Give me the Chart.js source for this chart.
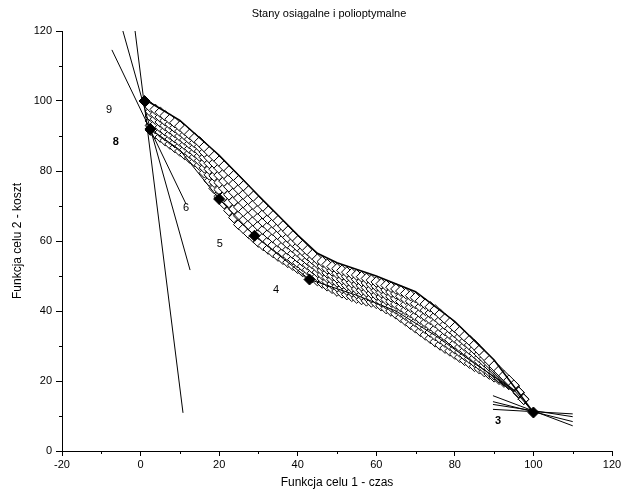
<!DOCTYPE html>
<html lang="pl">
<head>
<meta charset="UTF-8">
<title>Stany osiągalne i polioptymalne</title>
<script src="https://cdn.jsdelivr.net/npm/chart.js@4.4.0/dist/chart.umd.min.js"></script>
<style>
  html, body { margin: 0; padding: 0; background: #fff; }
  canvas { display: block; }
</style>
</head>
<body>
<canvas id="chart" width="625" height="495"></canvas>
<script>
// reachable states: six rows of hollow diamonds along the band
const xBand = [2.5, 3.75, 5, 6.25, 7.5, 8.75, 10, 11.25, 12.5, 13.75, 15, 16.25, 17.5, 18.75, 20, 21.25, 22.5, 23.75,
               25, 26.25, 27.5, 28.75, 30, 31.25, 32.5, 33.75, 35, 36.25, 37.5, 38.75, 40, 41.25, 42.5, 43.75, 45,
               46.25, 47.5, 48.75, 50, 51.25, 52.5, 53.75, 55, 56.25, 57.5, 58.75, 60, 61.25, 62.5, 63.75, 65,
               66.25, 67.5, 68.75, 70, 71.25, 72.5, 73.75, 75, 76.25, 77.5, 78.75, 80, 81.25, 82.5, 83.75, 85,
               86.25, 87.5, 88.75, 90, 91.25, 92.5, 93.75, 95, 96.25, 97.5];
const yRow0 = [98.3, 97.6, 96.8, 95.8, 94.8, 93.8, 92.8, 91.7, 90.5, 89.4, 88.3, 86.9, 85.5, 84.2, 82.8, 81.4, 80.0, 78.7,
               77.3, 75.8, 74.3, 72.8, 71.3, 69.9, 68.5, 67.2, 65.8, 64.3, 62.8, 61.4, 60.0, 58.7, 57.3, 56.1, 54.8,
               54.1, 53.3, 52.7, 52.1, 51.6, 51.1, 50.7, 50.3, 49.8, 49.3, 48.8, 48.3, 47.8, 47.3, 46.8, 46.3,
               45.7, 45.0, 44.4, 43.8, 42.9, 42.0, 41.2, 40.3, 39.1, 37.8, 36.6, 35.3, 34.1, 32.8, 31.6, 30.3,
               28.8, 27.3, 25.8, 24.3, 22.9, 21.5, 20.2, 18.8, 16.8, 14.8];
const yRow1 = [97.0, 96.2, 95.4, 94.4, 93.4, 92.4, 91.4, 90.3, 89.1, 88.1, 87.0, 85.4, 83.8, 82.3, 80.8, 79.3, 77.7, 76.3,
               74.8, 73.3, 71.9, 70.4, 69.0, 67.7, 66.3, 65.1, 63.8, 62.4, 61.0, 59.7, 58.4, 57.2, 55.9, 54.8, 53.6,
               52.8, 52.1, 51.5, 50.8, 50.3, 49.8, 49.4, 49.0, 48.5, 48.0, 47.6, 47.1, 46.5, 46.0, 45.4, 44.9,
               44.2, 43.4, 42.8, 42.1, 41.2, 40.2, 39.4, 38.5, 37.3, 36.1, 35.0, 33.8, 32.6, 31.4, 30.3, 29.1,
               27.7, 26.4, 25.0, 23.7, 22.4, 21.1, 19.9, 18.7, 16.8, 14.8];
const yRow2 = [95.7, 94.8, 94.0, 93.0, 92.0, 91.0, 90.0, 88.9, 87.8, 86.7, 85.7, 83.9, 82.2, 80.5, 78.8, 77.1, 75.5, 73.9,
               72.3, 70.9, 69.5, 68.1, 66.7, 65.4, 64.2, 63.0, 61.8, 60.5, 59.2, 58.1, 56.9, 55.7, 54.5, 53.5, 52.4,
               51.6, 50.9, 50.2, 49.5, 49.0, 48.5, 48.1, 47.7, 47.2, 46.7, 46.3, 45.9, 45.3, 44.7, 44.1, 43.5,
               42.7, 41.9, 41.1, 40.4, 39.4, 38.5, 37.6, 36.7, 35.6, 34.4, 33.4, 32.3, 31.2, 30.0, 29.0, 27.9,
               26.7, 25.5, 24.3, 23.1, 21.9, 20.8, 19.7, 18.6, 16.7, 14.8];
const yRow3 = [94.3, 93.4, 92.5, 91.5, 90.5, 89.5, 88.5, 87.5, 86.4, 85.4, 84.3, 82.4, 80.5, 78.6, 76.7, 75.0, 73.2, 71.5,
               69.7, 68.4, 67.0, 65.7, 64.3, 63.2, 62.0, 60.9, 59.7, 58.6, 57.5, 56.4, 55.3, 54.2, 53.2, 52.2, 51.1,
               50.4, 49.6, 49.0, 48.3, 47.8, 47.3, 46.8, 46.3, 45.9, 45.5, 45.1, 44.6, 44.0, 43.3, 42.7, 42.0,
               41.2, 40.3, 39.5, 38.6, 37.7, 36.7, 35.8, 34.8, 33.8, 32.8, 31.8, 30.7, 29.7, 28.7, 27.7, 26.6,
               25.6, 24.5, 23.5, 22.4, 21.4, 20.4, 19.4, 18.4, 16.6, 14.8];
const yRow4 = [93.0, 92.1, 91.1, 90.1, 89.1, 88.1, 87.1, 86.1, 85.1, 84.0, 83.0, 80.9, 78.9, 76.8, 74.7, 72.8, 71.0, 69.1,
               67.2, 65.9, 64.6, 63.3, 62.0, 61.0, 59.9, 58.8, 57.7, 56.7, 55.7, 54.7, 53.8, 52.8, 51.8, 50.9, 49.9,
               49.2, 48.4, 47.7, 47.0, 46.5, 46.0, 45.5, 45.0, 44.6, 44.2, 43.8, 43.4, 42.7, 42.0, 41.3, 40.6,
               39.7, 38.8, 37.8, 36.9, 35.9, 35.0, 34.0, 33.0, 32.1, 31.1, 30.2, 29.2, 28.3, 27.3, 26.4, 25.4,
               24.5, 23.6, 22.7, 21.8, 20.9, 20.1, 19.2, 18.3, 16.6, 14.8];
const yRow5 = [91.7, 90.7, 89.7, 88.7, 87.7, 86.7, 85.7, 84.7, 83.7, 82.7, 81.7, 79.5, 77.2, 75.0, 72.7, 70.7, 68.7, 66.7,
               64.7, 63.5, 62.2, 61.0, 59.7, 58.7, 57.7, 56.7, 55.7, 54.8, 53.9, 53.1, 52.2, 51.3, 50.4, 49.6, 48.7,
               48.0, 47.2, 46.5, 45.7, 45.2, 44.7, 44.2, 43.7, 43.3, 42.9, 42.6, 42.2, 41.5, 40.7, 40.0, 39.2,
               38.2, 37.2, 36.2, 35.2, 34.2, 33.2, 32.2, 31.2, 30.3, 29.4, 28.6, 27.7, 26.8, 25.9, 25.1, 24.2,
               23.5, 22.7, 22.0, 21.2, 20.5, 19.7, 19.0, 18.2, 16.6, 14.9];

// dark outlines running through the band
const xEdgeTop = [1, 10, 20, 30, 40, 45, 50, 60, 70, 80, 90, 100];
const yEdgeTop = [100.5, 94.5, 84.5, 73, 61.7, 56.5, 53.8, 50, 45.5, 37, 26, 11];
const xEdgeMid = [2.5, 10, 20, 29, 43, 55, 65, 75, 85, 95, 100];
const yEdgeMid = [92, 86, 72, 61.5, 49, 44.5, 40, 33, 25, 17.5, 11];

// polioptimal states (filled diamonds)
const xPareto = [1, 2.5, 20, 29, 43, 100];
const yPareto = [100, 92, 72, 61.5, 49, 11];

// straight lines through the extreme points (start, end)
const segX = [[-1.4, 10.8], [-4.5, 12.6], [-7.3, 11.6], [89.7, 110], [89.7, 110], [89.7, 110], [89.7, 110]];
const segY = [[120, 10.9], [120, 51.7], [114.6, 70.5], [15.8, 7.2], [14.1, 8.4], [13.3, 9.8], [11.9, 10.6]];

// numbered labels
const labelText = ['9', '8', '6', '5', '4', '3'];
const labelX = [-8, -6.3, 11.6, 20.2, 34.5, 91];
const labelY = [97.4, 88.3, 69.4, 59.1, 46, 8.6];
const labelBold = [false, true, false, false, false, true];

const FONT = '"Liberation Sans", Arial, sans-serif';

function pts(xs, ys) {
  return xs.map((x, i) => ({ x: x, y: ys[i] }));
}

function diamonds(ys, order) {
  return {
    data: pts(xBand, ys),
    pointStyle: 'rectRot',
    pointRadius: 5.3,
    backgroundColor: '#fff',
    borderColor: '#000',
    borderWidth: 1,
    showLine: false,
    order: order
  };
}

function line(xs, ys, order, width) {
  return {
    data: pts(xs, ys),
    showLine: true,
    pointRadius: 0,
    borderColor: '#000',
    borderWidth: width,
    fill: false,
    order: order
  };
}

const datasets = [
  diamonds(yRow5, 9),
  diamonds(yRow4, 8),
  diamonds(yRow3, 7),
  diamonds(yRow2, 6),
  diamonds(yRow1, 5),
  diamonds(yRow0, 4),
  line(xEdgeTop, yEdgeTop, 3, 1.5),
  line(xEdgeMid, yEdgeMid, 3, 1)
];
segX.forEach((sx, i) => datasets.push(line(sx, segY[i], 2, 1)));
datasets.push({
  data: pts(xPareto, yPareto),
  pointStyle: 'rectRot',
  pointRadius: 5.5,
  backgroundColor: '#000',
  borderColor: '#000',
  borderWidth: 1,
  showLine: false,
  order: 0
});

// minor ticks, title and the numbered labels
const extras = {
  id: 'extras',
  afterDraw(chart) {
    const { ctx, scales: { x, y } } = chart;
    ctx.save();
    ctx.strokeStyle = '#000';
    ctx.lineWidth = 1;
    ctx.beginPath();
    for (let v = -10; v <= 110; v += 20) {
      const px = Math.round(x.getPixelForValue(v)) + 0.5;
      ctx.moveTo(px, y.bottom);
      ctx.lineTo(px, y.bottom + 3);
    }
    for (let v = 10; v <= 110; v += 20) {
      const py = Math.round(y.getPixelForValue(v)) + 0.5;
      ctx.moveTo(x.left, py);
      ctx.lineTo(x.left - 3, py);
    }
    ctx.stroke();

    ctx.fillStyle = '#000';
    ctx.textAlign = 'center';
    ctx.textBaseline = 'middle';
    ctx.font = '11px ' + FONT;
    ctx.fillText('Stany osiągalne i polioptymalne', 329, 14);

    labelText.forEach((t, i) => {
      ctx.font = (labelBold[i] ? 'bold ' : '') + '11px ' + FONT;
      ctx.fillText(t, x.getPixelForValue(labelX[i]), y.getPixelForValue(labelY[i]));
    });
    ctx.restore();
  }
};

new Chart(document.getElementById('chart'), {
  type: 'scatter',
  data: { datasets: datasets },
  options: {
    responsive: false,
    animation: false,
    events: [],
    layout: { padding: { top: 31, right: 13, bottom: 0, left: 0 } },
    plugins: {
      legend: { display: false },
      tooltip: { enabled: false }
    },
    scales: {
      x: {
        type: 'linear',
        min: -20,
        max: 120,
        afterFit: (s) => { s.height = 44; },
        border: { display: true, color: '#000', width: 1 },
        grid: { drawOnChartArea: false, drawTicks: true, tickLength: 5, color: '#000' },
        ticks: { stepSize: 20, padding: 2, color: '#000', maxRotation: 0, font: { family: FONT, size: 11 } },
        title: { display: true, text: 'Funkcja celu 1 - czas', color: '#000', padding: { bottom: 5 },
                 font: { family: FONT, size: 12 } }
      },
      y: {
        type: 'linear',
        min: 0,
        max: 120,
        afterFit: (s) => { s.width = 62; },
        border: { display: true, color: '#000', width: 1 },
        grid: { drawOnChartArea: false, drawTicks: true, tickLength: 6, color: '#000' },
        ticks: { stepSize: 20, padding: 4, color: '#000', font: { family: FONT, size: 11 } },
        title: { display: true, text: 'Funkcja celu 2 - koszt', color: '#000', padding: { top: 10 },
                 font: { family: FONT, size: 12 } }
      }
    }
  },
  plugins: [extras]
});
</script>
</body>
</html>
